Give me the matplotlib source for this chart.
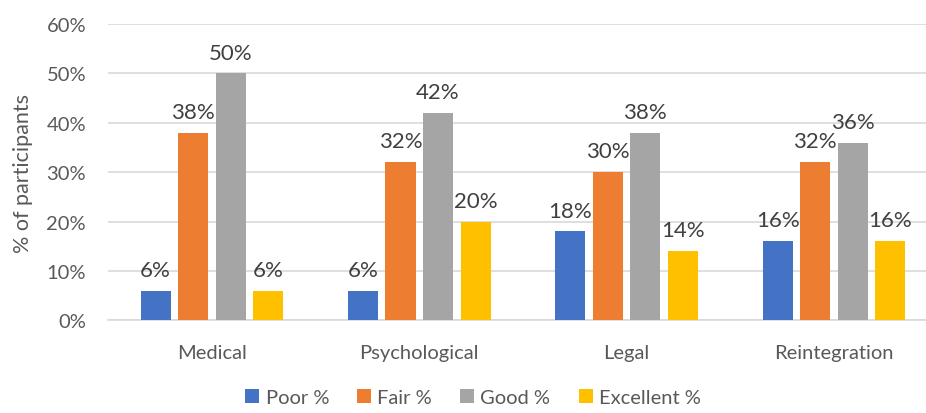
import numpy as np
import matplotlib
matplotlib.use("Agg")
from matplotlib import pyplot as plt
from matplotlib.ticker import PercentFormatter

categories = ['Medical', 'Psychological', 'Legal', 'Reintegration']
series = ['Poor %', 'Fair %', 'Good %', 'Excellent %']
poor = [6, 6, 18, 16]
fair = [38, 32, 30, 32]
good = [50, 42, 38, 36]
excellent = [6, 20, 14, 16]
colors = ['#4472C4', '#ED7D31', '#A5A5A5', '#FFC000']

plt.rcParams['font.family'] = ['Lato', 'DejaVu Sans']

fig = plt.figure(figsize=(9.26, 4.14), dpi=100)
ax = fig.add_axes([108.3 / 926, 92.7 / 414, 829.3 / 926, 296.3 / 414])

x = np.arange(len(categories))
width = 0.145
pitch = 0.181
for i, (name, vals) in enumerate(zip(series, [poor, fair, good, excellent])):
    pos = x + (i - 1.5) * pitch
    bars = ax.bar(pos, vals, width, color=colors[i], label=name, zorder=3)
    for b, v in zip(bars, vals):
        ax.text(b.get_x() + b.get_width() / 2, v + 3.0, f'{v}%',
                ha='center', va='baseline', fontsize=16, color='#404040')

ax.set_xlim(-0.5, len(categories) - 0.5)
ax.set_ylim(0, 60)
ax.set_yticks(range(0, 61, 10))
ax.yaxis.set_major_formatter(PercentFormatter(decimals=0))
ax.set_xticks(x)
ax.set_xticklabels(categories)
ax.tick_params(axis='both', length=0, labelsize=14.5, colors='#595959')
ax.tick_params(axis='x', pad=17)
ax.tick_params(axis='y', pad=16)
ax.grid(axis='y', color='#D9D9D9', linewidth=1.2, zorder=0)
for s in ['top', 'right', 'left']:
    ax.spines[s].set_visible(False)
ax.spines['bottom'].set_color('#D9D9D9')
ax.spines['bottom'].set_linewidth(1.2)
ax.set_ylabel('% of participants', fontsize=15.5, color='#595959', labelpad=10)

fig.legend(loc='lower center', bbox_to_anchor=(473 / 926, -0.028), ncol=4,
           frameon=False, fontsize=14.5, labelcolor='#595959',
           handlelength=0.7, handleheight=0.7, handletextpad=0.3,
           columnspacing=1.4)

fig.savefig('out.png', dpi=100)
